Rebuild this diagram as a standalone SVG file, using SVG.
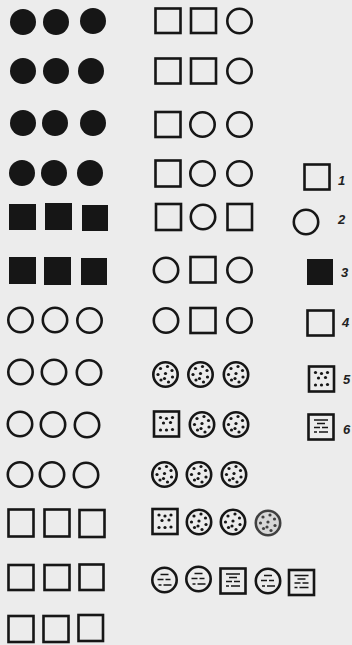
<svg xmlns="http://www.w3.org/2000/svg" width="352" height="645" viewBox="0 0 352 645">
<style>
.bg{fill:#ececec}
.f{fill:#161616}
.o{fill:none;stroke:#161616;stroke-width:2.6}
.d{fill:#161616}
.h{stroke:#161616;stroke-width:1.6;fill:none}
.lbl{font-family:"Liberation Sans",Arial,sans-serif;font-style:italic;font-weight:bold;font-size:13px;fill:#222}
</style>
<defs>
<g id="dc">
<circle r="12.2" class="o"/>
<circle cx="-5" cy="-6" r="1.6" class="d"/><circle cx="2" cy="-8" r="1.6" class="d"/><circle cx="6.5" cy="-4" r="1.6" class="d"/>
<circle cx="-7.5" cy="0" r="1.6" class="d"/><circle cx="0" cy="-1" r="1.6" class="d"/><circle cx="7" cy="2.5" r="1.6" class="d"/>
<circle cx="-4.5" cy="5.5" r="1.6" class="d"/><circle cx="3" cy="7.5" r="1.6" class="d"/><circle cx="-1" cy="4" r="1.6" class="d"/>
</g>
<g id="ds">
<rect x="-12.5" y="-12.5" width="25" height="25" class="o"/>
<circle cx="-6" cy="-6.5" r="1.6" class="d"/><circle cx="0" cy="-5.5" r="1.6" class="d"/><circle cx="6" cy="-6.5" r="1.6" class="d"/>
<circle cx="-3" cy="-1" r="1.6" class="d"/><circle cx="4" cy="-1.5" r="1.6" class="d"/>
<circle cx="-6" cy="6" r="1.6" class="d"/><circle cx="0" cy="6" r="1.6" class="d"/><circle cx="6" cy="5.5" r="1.6" class="d"/>
</g>
<g id="hc">
<circle r="12.2" class="o"/>
<path class="h" d="M-4,-5.5H4M-7,-0.5H-1M1,-0.5H6M-1,5H7M-6,5H-3"/>
</g>
<g id="hs">
<rect x="-12.5" y="-12.5" width="25" height="25" class="o"/>
<path class="h" d="M-7,-7H7M-4,-3.5H4M-7,0.5H-1M1,0.5H7M-2,5H7M-7,5H-4"/>
</g>
</defs>
<rect class="bg" x="0" y="0" width="352" height="645"/>

<g id="left-column">
<g id="L1"><circle class="f" cx="23" cy="22" r="13"/><circle class="f" cx="56" cy="22" r="13"/><circle class="f" cx="93" cy="21" r="13"/></g>
<g id="L2"><circle class="f" cx="23" cy="71" r="13"/><circle class="f" cx="56" cy="71" r="13"/><circle class="f" cx="91" cy="71" r="13"/></g>
<g id="L3"><circle class="f" cx="23" cy="123" r="13"/><circle class="f" cx="55" cy="123" r="13"/><circle class="f" cx="93" cy="123" r="13"/></g>
<g id="L4"><circle class="f" cx="22" cy="173" r="13"/><circle class="f" cx="54" cy="173" r="13"/><circle class="f" cx="90" cy="173" r="13"/></g>
<g id="L5"><rect class="f" x="9" y="204" width="27" height="26"/><rect class="f" x="45" y="203" width="27" height="27"/><rect class="f" x="82" y="205" width="26" height="26"/></g>
<g id="L6"><rect class="f" x="9" y="257" width="27" height="27"/><rect class="f" x="44" y="257" width="27" height="28"/><rect class="f" x="81" y="258" width="26" height="27"/></g>
<g id="L7"><circle class="o" cx="20.5" cy="320" r="12.2"/><circle class="o" cx="55" cy="320" r="12.2"/><circle class="o" cx="89.5" cy="320.5" r="12.2"/></g>
<g id="L8"><circle class="o" cx="20.5" cy="372" r="12.2"/><circle class="o" cx="54" cy="372" r="12.2"/><circle class="o" cx="89" cy="372.5" r="12.2"/></g>
<g id="L9"><circle class="o" cx="20" cy="424" r="12.2"/><circle class="o" cx="53" cy="424.5" r="12.2"/><circle class="o" cx="87" cy="425" r="12.2"/></g>
<g id="L10"><circle class="o" cx="20" cy="474.5" r="12.2"/><circle class="o" cx="52" cy="474.5" r="12.2"/><circle class="o" cx="86" cy="475" r="12.2"/></g>
<g id="L11"><rect class="o" x="8.5" y="509.5" width="25" height="27"/><rect class="o" x="44.5" y="509.5" width="25" height="27"/><rect class="o" x="79.5" y="510" width="25" height="27"/></g>
<g id="L12"><rect class="o" x="8.5" y="565" width="25" height="25"/><rect class="o" x="44.5" y="565" width="25" height="25"/><rect class="o" x="79.5" y="564.5" width="24" height="25.5"/></g>
<g id="L13"><rect class="o" x="8.5" y="616" width="25" height="26"/><rect class="o" x="43.5" y="616" width="25" height="26"/><rect class="o" x="78.5" y="615" width="24.5" height="26"/></g>
</g>

<g id="middle-column">
<g id="M1"><rect class="o" x="155.5" y="8.5" width="25" height="24.5"/><rect class="o" x="191" y="8.5" width="25" height="24.5"/><circle class="o" cx="239.5" cy="21" r="12.2"/></g>
<g id="M2"><rect class="o" x="155.5" y="58.5" width="25" height="25"/><rect class="o" x="191" y="58.5" width="25" height="25"/><circle class="o" cx="239.5" cy="71" r="12.2"/></g>
<g id="M3"><rect class="o" x="155.5" y="112" width="25" height="25"/><circle class="o" cx="202.5" cy="124.5" r="12.2"/><circle class="o" cx="239.5" cy="124.5" r="12.2"/></g>
<g id="M4"><rect class="o" x="155.5" y="160.5" width="25" height="26"/><circle class="o" cx="202.5" cy="173.5" r="12.2"/><circle class="o" cx="239.5" cy="173.5" r="12.2"/></g>
<g id="M5"><rect class="o" x="156" y="204" width="25" height="26"/><circle class="o" cx="203" cy="217" r="12.2"/><rect class="o" x="227.5" y="204" width="24.5" height="26"/></g>
<g id="M6"><circle class="o" cx="166" cy="270" r="12.2"/><rect class="o" x="190.5" y="257" width="25" height="25.5"/><circle class="o" cx="239.5" cy="270" r="12.2"/></g>
<g id="M7"><circle class="o" cx="166" cy="320.5" r="12.2"/><rect class="o" x="190.5" y="308" width="25" height="25"/><circle class="o" cx="239.5" cy="320.5" r="12.2"/></g>
<g id="M8"><use href="#dc" x="165.5" y="374.5"/><use href="#dc" x="200.5" y="374.5"/><use href="#dc" x="236" y="374.5"/></g>
<g id="M9"><use href="#ds" x="166.5" y="424"/><use href="#dc" x="202" y="424.5"/><use href="#dc" x="236" y="424.5"/></g>
<g id="M10"><use href="#dc" x="164.5" y="474.5"/><use href="#dc" x="199" y="474.5"/><use href="#dc" x="234" y="474.5"/></g>
<g id="M11"><use href="#ds" x="165" y="521.5"/><use href="#dc" x="199" y="522"/><use href="#dc" x="233" y="522"/><g opacity="0.8"><circle cx="268" cy="523" r="12" fill="#d2d2d2"/><use href="#dc" x="268" y="523"/></g></g>
<g id="M12"><use href="#hc" x="164.5" y="580"/><use href="#hc" x="198.5" y="579"/><use href="#hs" x="233" y="581"/><use href="#hc" x="268" y="581"/><use href="#hs" x="301.5" y="582.5"/></g>
</g>

<g id="legend">
<g id="leg1"><rect class="o" x="304.5" y="164.5" width="25" height="25"/><text class="lbl" x="338" y="185">1</text></g>
<g id="leg2"><circle class="o" cx="306" cy="222" r="12.2"/><text class="lbl" x="338" y="224">2</text></g>
<g id="leg3"><rect class="f" x="307" y="259" width="26" height="26"/><text class="lbl" x="341" y="277">3</text></g>
<g id="leg4"><rect class="o" x="307.5" y="310.5" width="26" height="25"/><text class="lbl" x="342" y="327">4</text></g>
<g id="leg5"><use href="#ds" x="321.5" y="379"/><text class="lbl" x="343" y="384">5</text></g>
<g id="leg6"><use href="#hs" x="321" y="427"/><text class="lbl" x="343" y="434">6</text></g>
</g>
</svg>
